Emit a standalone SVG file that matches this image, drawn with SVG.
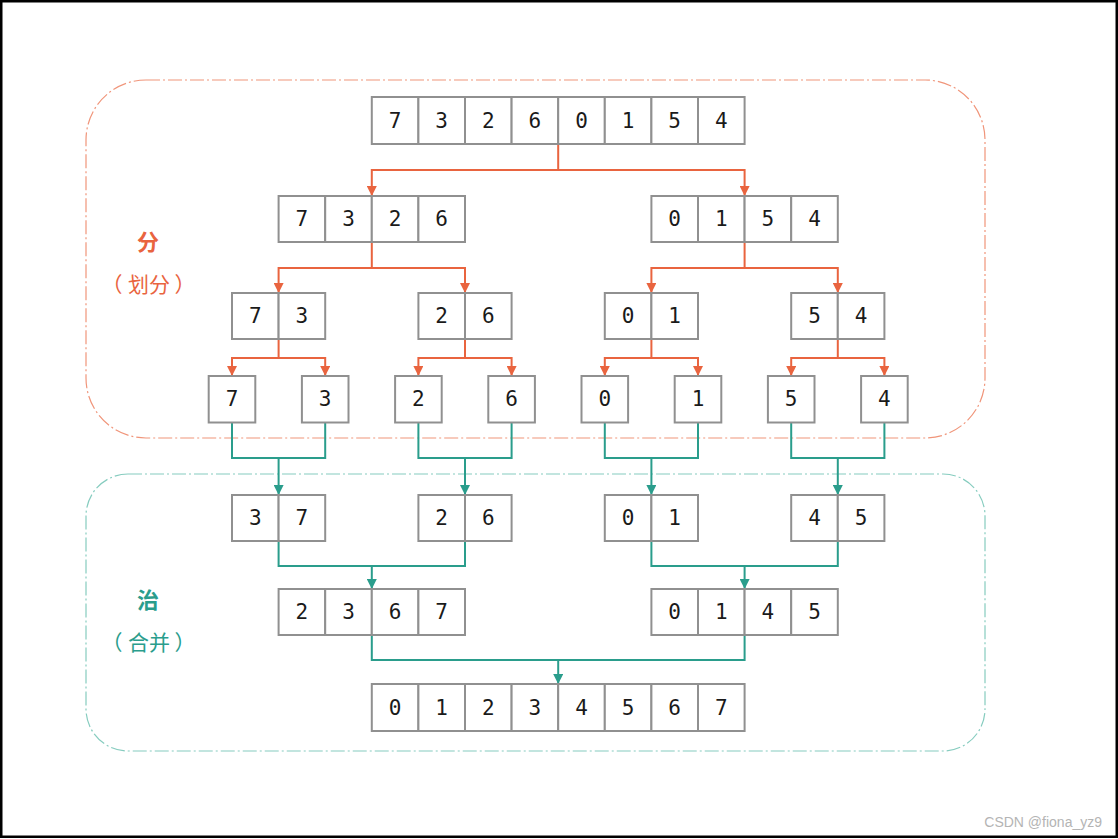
<svg xmlns="http://www.w3.org/2000/svg" width="1118" height="839" viewBox="0 0 1118 839">
<style>
.cell{fill:#ffffff;stroke:#909090;stroke-width:2}
.num{font-family:"DejaVu Sans Mono","Liberation Mono",monospace;font-size:21px;fill:#1a1a1a;text-anchor:middle;dominant-baseline:central}
.or{fill:none;stroke:#E9643F;stroke-width:2;marker-end:url(#ao)}
.te{fill:none;stroke:#2A9D8C;stroke-width:2;marker-end:url(#at)}
.te2{fill:none;stroke:#2A9D8C;stroke-width:2}
.lbl{font-family:"Noto Sans CJK SC","Noto Sans",sans-serif;text-anchor:middle;dominant-baseline:central}
</style>
<defs>
<marker id="ao" markerUnits="userSpaceOnUse" markerWidth="10" markerHeight="10" viewBox="0 0 10 10" refX="10" refY="5" orient="auto"><path d="M0,0 L10,5 L0,10 z" fill="#E9643F"/></marker>
<marker id="at" markerUnits="userSpaceOnUse" markerWidth="10" markerHeight="10" viewBox="0 0 10 10" refX="10" refY="5" orient="auto"><path d="M0,0 L10,5 L0,10 z" fill="#2A9D8C"/></marker>
</defs>
<rect x="0" y="0" width="1118" height="839" fill="#ffffff"/>
<rect x="1.25" y="1.25" width="1115.5" height="835.5" fill="none" stroke="#000000" stroke-width="2.5"/>

<g id="region-divide">
<rect x="86" y="80" width="899" height="358" rx="60" ry="60" fill="none" stroke="#F0957A" stroke-width="1.2" stroke-dasharray="14 3 2 3"/>
<text class="lbl" x="148" y="240" font-size="22" font-weight="bold" fill="#E9643F">分</text>
<text class="lbl" y="283" font-size="21" fill="#E9643F"><tspan x="112">（</tspan><tspan x="149">划分</tspan><tspan x="185">）</tspan></text>
</g>
<g id="region-merge">
<rect x="86" y="474" width="899" height="277" rx="42" ry="42" fill="none" stroke="#86CCBF" stroke-width="1.2" stroke-dasharray="14 3 2 3"/>
<text class="lbl" x="148" y="598" font-size="22" font-weight="bold" fill="#2A9D8C">治</text>
<text class="lbl" y="641" font-size="21" fill="#2A9D8C"><tspan x="112">（</tspan><tspan x="149">合并</tspan><tspan x="185">）</tspan></text>
</g>

<g id="connectors">
<path class="or" d="M558.2,144 V170 H371.8 V196"/>
<path class="or" d="M558.2,170 H744.6 V196"/>
<path class="or" d="M371.8,242 V268 H278.6 V293"/>
<path class="or" d="M371.8,268 H465 V293"/>
<path class="or" d="M744.6,242 V268 H651.4 V293"/>
<path class="or" d="M744.6,268 H837.8 V293"/>
<path class="or" d="M278.6,339 V358 H232 V376"/>
<path class="or" d="M278.6,358 H325.2 V376"/>
<path class="or" d="M465,339 V358 H418.4 V376"/>
<path class="or" d="M465,358 H511.6 V376"/>
<path class="or" d="M651.4,339 V358 H604.8 V376"/>
<path class="or" d="M651.4,358 H698 V376"/>
<path class="or" d="M837.8,339 V358 H791.2 V376"/>
<path class="or" d="M837.8,358 H884.4 V376"/>

<path class="te2" d="M232,422.5 V458 H325.2 V422.5"/>
<path class="te" d="M278.6,458 V495"/>
<path class="te2" d="M418.4,422.5 V458 H511.6 V422.5"/>
<path class="te" d="M465,458 V495"/>
<path class="te2" d="M604.8,422.5 V458 H698 V422.5"/>
<path class="te" d="M651.4,458 V495"/>
<path class="te2" d="M791.2,422.5 V458 H884.4 V422.5"/>
<path class="te" d="M837.8,458 V495"/>

<path class="te2" d="M278.6,541 V566 H465 V541"/>
<path class="te" d="M371.8,566 V589"/>
<path class="te2" d="M651.4,541 V566 H837.8 V541"/>
<path class="te" d="M744.6,566 V589"/>

<path class="te2" d="M371.8,635 V660 H744.6 V635"/>
<path class="te" d="M558.2,660 V684"/>
</g>

<g id="n-top">
<rect class="cell" x="371.8" y="97" width="46.6" height="47"/><text class="num" x="395.1" y="120.5">7</text>
<rect class="cell" x="418.4" y="97" width="46.6" height="47"/><text class="num" x="441.7" y="120.5">3</text>
<rect class="cell" x="465" y="97" width="46.6" height="47"/><text class="num" x="488.3" y="120.5">2</text>
<rect class="cell" x="511.6" y="97" width="46.6" height="47"/><text class="num" x="534.9" y="120.5">6</text>
<rect class="cell" x="558.2" y="97" width="46.6" height="47"/><text class="num" x="581.5" y="120.5">0</text>
<rect class="cell" x="604.8" y="97" width="46.6" height="47"/><text class="num" x="628.1" y="120.5">1</text>
<rect class="cell" x="651.4" y="97" width="46.6" height="47"/><text class="num" x="674.7" y="120.5">5</text>
<rect class="cell" x="698" y="97" width="46.6" height="47"/><text class="num" x="721.3" y="120.5">4</text>
</g>

<g id="n-7326">
<rect class="cell" x="278.6" y="196" width="46.6" height="46"/><text class="num" x="301.9" y="219">7</text>
<rect class="cell" x="325.2" y="196" width="46.6" height="46"/><text class="num" x="348.5" y="219">3</text>
<rect class="cell" x="371.8" y="196" width="46.6" height="46"/><text class="num" x="395.1" y="219">2</text>
<rect class="cell" x="418.4" y="196" width="46.6" height="46"/><text class="num" x="441.7" y="219">6</text>
</g>
<g id="n-0154">
<rect class="cell" x="651.4" y="196" width="46.6" height="46"/><text class="num" x="674.7" y="219">0</text>
<rect class="cell" x="698" y="196" width="46.6" height="46"/><text class="num" x="721.3" y="219">1</text>
<rect class="cell" x="744.6" y="196" width="46.6" height="46"/><text class="num" x="767.9" y="219">5</text>
<rect class="cell" x="791.2" y="196" width="46.6" height="46"/><text class="num" x="814.5" y="219">4</text>
</g>

<g id="n-73">
<rect class="cell" x="232" y="293" width="46.6" height="46"/><text class="num" x="255.3" y="316">7</text>
<rect class="cell" x="278.6" y="293" width="46.6" height="46"/><text class="num" x="301.9" y="316">3</text>
</g>
<g id="n-26">
<rect class="cell" x="418.4" y="293" width="46.6" height="46"/><text class="num" x="441.7" y="316">2</text>
<rect class="cell" x="465" y="293" width="46.6" height="46"/><text class="num" x="488.3" y="316">6</text>
</g>
<g id="n-01">
<rect class="cell" x="604.8" y="293" width="46.6" height="46"/><text class="num" x="628.1" y="316">0</text>
<rect class="cell" x="651.4" y="293" width="46.6" height="46"/><text class="num" x="674.7" y="316">1</text>
</g>
<g id="n-54">
<rect class="cell" x="791.2" y="293" width="46.6" height="46"/><text class="num" x="814.5" y="316">5</text>
<rect class="cell" x="837.8" y="293" width="46.6" height="46"/><text class="num" x="861.1" y="316">4</text>
</g>

<g id="n-s7"><rect class="cell" x="208.7" y="376" width="46.6" height="46.5"/><text class="num" x="232" y="399.2">7</text></g>
<g id="n-s3"><rect class="cell" x="301.9" y="376" width="46.6" height="46.5"/><text class="num" x="325.2" y="399.2">3</text></g>
<g id="n-s2"><rect class="cell" x="395.1" y="376" width="46.6" height="46.5"/><text class="num" x="418.4" y="399.2">2</text></g>
<g id="n-s6"><rect class="cell" x="488.3" y="376" width="46.6" height="46.5"/><text class="num" x="511.6" y="399.2">6</text></g>
<g id="n-s0"><rect class="cell" x="581.5" y="376" width="46.6" height="46.5"/><text class="num" x="604.8" y="399.2">0</text></g>
<g id="n-s1"><rect class="cell" x="674.7" y="376" width="46.6" height="46.5"/><text class="num" x="698" y="399.2">1</text></g>
<g id="n-s5"><rect class="cell" x="767.9" y="376" width="46.6" height="46.5"/><text class="num" x="791.2" y="399.2">5</text></g>
<g id="n-s4"><rect class="cell" x="861.1" y="376" width="46.6" height="46.5"/><text class="num" x="884.4" y="399.2">4</text></g>

<g id="m-37">
<rect class="cell" x="232" y="495" width="46.6" height="46"/><text class="num" x="255.3" y="518">3</text>
<rect class="cell" x="278.6" y="495" width="46.6" height="46"/><text class="num" x="301.9" y="518">7</text>
</g>
<g id="m-26">
<rect class="cell" x="418.4" y="495" width="46.6" height="46"/><text class="num" x="441.7" y="518">2</text>
<rect class="cell" x="465" y="495" width="46.6" height="46"/><text class="num" x="488.3" y="518">6</text>
</g>
<g id="m-01">
<rect class="cell" x="604.8" y="495" width="46.6" height="46"/><text class="num" x="628.1" y="518">0</text>
<rect class="cell" x="651.4" y="495" width="46.6" height="46"/><text class="num" x="674.7" y="518">1</text>
</g>
<g id="m-45">
<rect class="cell" x="791.2" y="495" width="46.6" height="46"/><text class="num" x="814.5" y="518">4</text>
<rect class="cell" x="837.8" y="495" width="46.6" height="46"/><text class="num" x="861.1" y="518">5</text>
</g>

<g id="m-2367">
<rect class="cell" x="278.6" y="589" width="46.6" height="46"/><text class="num" x="301.9" y="612">2</text>
<rect class="cell" x="325.2" y="589" width="46.6" height="46"/><text class="num" x="348.5" y="612">3</text>
<rect class="cell" x="371.8" y="589" width="46.6" height="46"/><text class="num" x="395.1" y="612">6</text>
<rect class="cell" x="418.4" y="589" width="46.6" height="46"/><text class="num" x="441.7" y="612">7</text>
</g>
<g id="m-0145">
<rect class="cell" x="651.4" y="589" width="46.6" height="46"/><text class="num" x="674.7" y="612">0</text>
<rect class="cell" x="698" y="589" width="46.6" height="46"/><text class="num" x="721.3" y="612">1</text>
<rect class="cell" x="744.6" y="589" width="46.6" height="46"/><text class="num" x="767.9" y="612">4</text>
<rect class="cell" x="791.2" y="589" width="46.6" height="46"/><text class="num" x="814.5" y="612">5</text>
</g>

<g id="m-final">
<rect class="cell" x="371.8" y="684" width="46.6" height="47"/><text class="num" x="395.1" y="707.5">0</text>
<rect class="cell" x="418.4" y="684" width="46.6" height="47"/><text class="num" x="441.7" y="707.5">1</text>
<rect class="cell" x="465" y="684" width="46.6" height="47"/><text class="num" x="488.3" y="707.5">2</text>
<rect class="cell" x="511.6" y="684" width="46.6" height="47"/><text class="num" x="534.9" y="707.5">3</text>
<rect class="cell" x="558.2" y="684" width="46.6" height="47"/><text class="num" x="581.5" y="707.5">4</text>
<rect class="cell" x="604.8" y="684" width="46.6" height="47"/><text class="num" x="628.1" y="707.5">5</text>
<rect class="cell" x="651.4" y="684" width="46.6" height="47"/><text class="num" x="674.7" y="707.5">6</text>
<rect class="cell" x="698" y="684" width="46.6" height="47"/><text class="num" x="721.3" y="707.5">7</text>
</g>

<text x="1102" y="827" font-family="Liberation Sans, Arial, sans-serif" font-size="14" fill="#b4b4b4" text-anchor="end">CSDN @fiona_yz9</text>
</svg>
